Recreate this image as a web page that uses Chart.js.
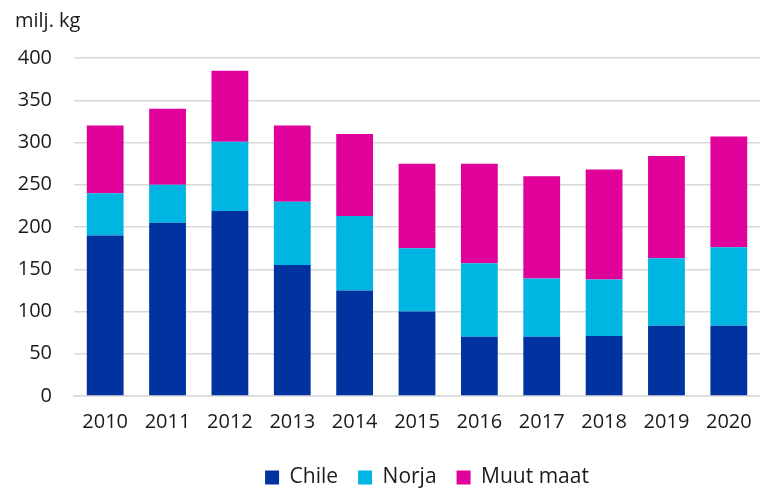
<!DOCTYPE html>
<html>
<head>
<meta charset="utf-8">
<script src="https://cdn.jsdelivr.net/npm/chart.js@4"></script>
<style>
  html, body { margin: 0; padding: 0; background: #fff; overflow: hidden; }
  #wrap { position: relative; width: 760px; height: 489px; }
</style>
</head>
<body>
<div id="wrap"><canvas id="chart"></canvas></div>
<script>
// categories and series (milj. kg)
const years = ["2010", "2011", "2012", "2013", "2014", "2015", "2016", "2017", "2018", "2019", "2020"];
const chile = [190, 205, 219, 155, 125, 100, 70, 70, 71, 83, 83];
const norja = [50, 45, 82, 75, 88, 75, 87, 69, 67, 80, 93];
const muut = [80, 90, 84, 90, 97, 100, 118, 121, 130, 121, 131];
const yTicks = [0, 50, 100, 150, 200, 250, 300, 350, 400];

const font = { family: "'Open Sans', 'Noto Sans', sans-serif", size: 20 };

const ctx = document.getElementById("chart").getContext("2d");

const makeSet = (label, data, color) => ({
  label: label,
  data: data,
  backgroundColor: color,
  borderWidth: 0,
  barPercentage: 0.59,
  categoryPercentage: 1,
});

// nudge the legend a little to the right, as in the original
const legendShift = {
  id: "legendShift",
  afterLayout(chart) {
    chart.legend.left += 10;
    chart.legend.right += 10;
  },
};

new Chart(ctx, {
  type: "bar",
  data: {
    labels: years,
    datasets: [
      makeSet("Chile", chile, "#0033A0"),
      makeSet("Norja", norja, "#00B5E2"),
      makeSet("Muut maat", muut, "#E0009A"),
    ],
  },
  options: {
    responsive: true,
    maintainAspectRatio: false,
    animation: false,
    layout: { padding: { left: 15, right: 0, top: 9, bottom: -9 } },
    plugins: {
      title: {
        display: true,
        text: "milj. kg",
        align: "start",
        color: "#1a1a1a",
        font: { ...font, weight: "normal" },
        padding: { top: 0, bottom: 25 },
      },
      legend: {
        position: "bottom",
        fullSize: false,
        labels: {
          color: "#1a1a1a",
          font: { ...font, size: 21 },
          boxWidth: 14,
          boxHeight: 14,
          padding: 20,
        },
      },
      tooltip: { enabled: false },
    },
    scales: {
      x: {
        stacked: true,
        grid: { display: false },
        border: { color: "#d9d9d9", width: 1.5 },
        ticks: { color: "#1a1a1a", font: font, padding: 6, maxRotation: 0 },
        // no extra side padding for the outer labels: the plot runs to the edge
        afterFit: (axis) => {
          axis.paddingLeft = 0;
          axis.paddingRight = 0;
          axis.height += 7;
        },
      },
      y: {
        stacked: true,
        min: 0,
        max: 400,
        afterBuildTicks: (axis) => { axis.ticks = yTicks.map((v) => ({ value: v })); },
        afterFit: (axis) => { axis.width = 59; },
        grid: { color: "#d9d9d9", lineWidth: 1.5, drawTicks: false },
        border: { display: false },
        ticks: { color: "#1a1a1a", font: font, padding: 22 },
      },
    },
  },
  plugins: [legendShift],
});
</script>
</body>
</html>
